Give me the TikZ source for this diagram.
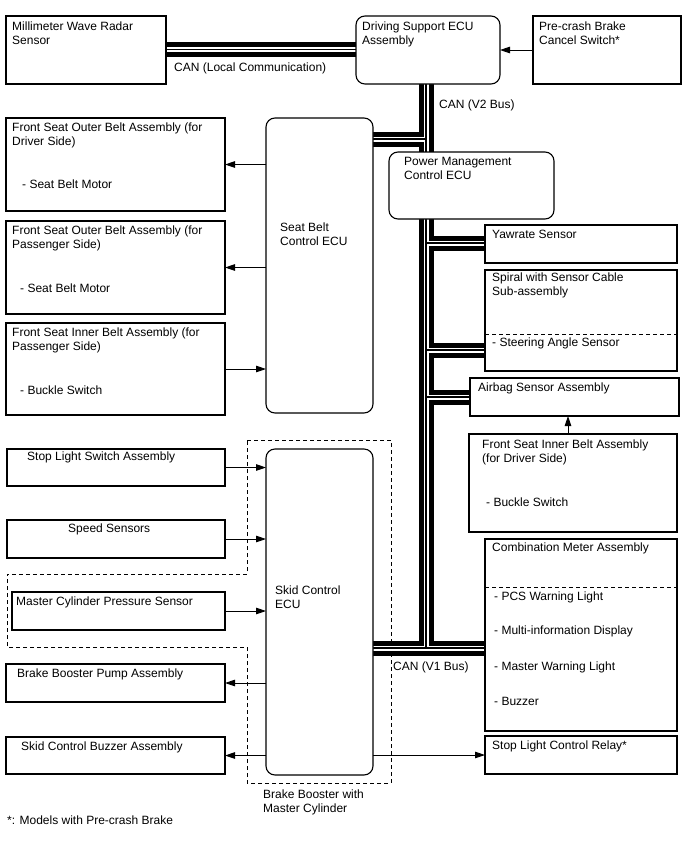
\documentclass[tikz,border=0pt]{standalone}
\usepackage{fontspec}
\setmainfont{Liberation Sans}
\usetikzlibrary{arrows.meta,backgrounds,calc}
\begin{document}
\begin{tikzpicture}[x=1pt,y=-1pt,
  box/.style={draw, line width=1.1pt, fill=white, inner sep=0pt, outer sep=0pt, anchor=north west},
  rbox/.style={box, rounded corners=9pt},
  txt/.style={anchor=north west, inner sep=0pt, align=left, font=\fontsize{12}{14}\selectfont},
  arr/.style={line width=0.9pt, -{Triangle[length=10pt,width=6.5pt]}},
  busA/.style={line width=15pt, black},
  busB/.style={line width=5pt, white},
  busC/.style={line width=1.4pt, black},
  bnd/.style={line width=1pt, dash pattern=on 4pt off 3pt},
  sep/.style={line width=0.9pt, dash pattern=on 4pt off 3pt}
]
\useasboundingbox (0,0) rectangle (688,852);

% boxes
\node[box, minimum width=160pt, minimum height=68pt] (radar) at (6,16) {};
\node[rbox, minimum width=144pt, minimum height=68pt] (dsecu) at (356,16) {};
\node[box, minimum width=148pt, minimum height=68pt] (pcs) at (533,16) {};
\node[rbox, minimum width=107pt, minimum height=295pt] (sbecu) at (266,118) {};
\node[box, minimum width=219pt, minimum height=93pt] (fsob1) at (6,118) {};
\node[box, minimum width=219pt, minimum height=93pt] (fsob2) at (6,221) {};
\node[box, minimum width=219pt, minimum height=92pt] (fsib2) at (6,323) {};
\node[rbox, minimum width=165pt, minimum height=67pt] (pm) at (389,152) {};
\node[box, minimum width=192pt, minimum height=38pt] (yaw) at (485,225) {};
\node[box, minimum width=192pt, minimum height=101pt] (spiral) at (485,270) {};
\node[box, minimum width=209pt, minimum height=38pt] (airbag) at (470,378) {};
\node[box, minimum width=208pt, minimum height=98pt] (fsib1) at (469,434) {};
\node[box, minimum width=192pt, minimum height=192pt] (comb) at (485,539) {};
\node[box, minimum width=192pt, minimum height=38pt] (relay) at (485,736) {};
\node[rbox, minimum width=107pt, minimum height=326pt] (skid) at (266,449) {};
\node[box, minimum width=218pt, minimum height=37pt] (sls) at (7,449) {};
\node[box, minimum width=218pt, minimum height=38pt] (speed) at (7,520) {};
\node[box, minimum width=213pt, minimum height=38pt] (mcps) at (12,592) {};
\node[box, minimum width=219pt, minimum height=38pt] (bbp) at (6,664) {};
\node[box, minimum width=219pt, minimum height=37pt] (scb) at (6,737) {};

% helper coordinates
\coordinate (busx) at (426,0);
\coordinate (yl) at (0,49.5);
\coordinate (ysb) at (0,139);
\coordinate (yyaw) at (0,243);
\coordinate (ysp) at (0,350);
\coordinate (yab) at (0,397);
\coordinate (yv1) at (0,648);
\coordinate (ax) at (568,0);
\coordinate (ysd) at (0,334);
\coordinate (ycd) at (0,587);

\begin{pgfonlayer}{background}
  \draw[bnd] (247,440) -- (391,440) -- (391,783) -- (247,783) -- (247,647) -- (7,647) -- (7,574) -- (247,574) -- cycle;
  \foreach \s in {busA,busB,busC} {
    \draw[\s] (radar.east |- yl) -- (dsecu.west |- yl);
    \draw[\s] (dsecu.south -| busx) -- (busx |- yv1);
    \draw[\s] (sbecu.east |- ysb) -- (busx |- ysb);
    \draw[\s] (busx |- yyaw) -- (yaw.west |- yyaw);
    \draw[\s] (busx |- ysp) -- (spiral.west |- ysp);
    \draw[\s] (busx |- yab) -- (airbag.west |- yab);
    \draw[\s] (skid.east |- yv1) -- (comb.west |- yv1);
  }
\end{pgfonlayer}

% internal separators
\draw[sep] (spiral.west |- ysd) -- (spiral.east |- ysd);
\draw[sep] (comb.west |- ycd) -- (comb.east |- ycd);

% arrows
\draw[arr] (pcs.west) -- (dsecu.east |- pcs.west);
\draw[arr] (sbecu.west |- fsob1.east) -- (fsob1.east);
\draw[arr] (sbecu.west |- fsob2.east) -- (fsob2.east);
\draw[arr] (fsib2.east) -- (sbecu.west |- fsib2.east);
\draw[arr] (sls.east) -- (skid.west |- sls.east);
\draw[arr] (speed.east) -- (skid.west |- speed.east);
\draw[arr] (mcps.east) -- (skid.west |- mcps.east);
\draw[arr] (skid.west |- bbp.east) -- (bbp.east);
\draw[arr] (skid.west |- scb.east) -- (scb.east);
\draw[arr] (skid.east |- relay.west) -- (relay.west);
\draw[arr] (fsib1.north -| ax) -- (airbag.south -| ax);

% texts
\node[txt] (t1) at (12,22) {Millimeter Wave Radar\\Sensor};
\node[txt] (t2) at (362,22) {Driving Support ECU\\Assembly};
\node[txt] (t3) at (539,22) {Pre-crash Brake\\Cancel Switch*};
\node[txt] (t4) at (174,63) {CAN (Local Communication)};
\node[txt] (t5) at (439,100) {CAN (V2 Bus)};
\node[txt] (t6) at (12,123) {Front Seat Outer Belt Assembly (for\\Driver Side)};
\node[txt] (t7) at (22,180) {- Seat Belt Motor};
\node[txt] (t8) at (12,226) {Front Seat Outer Belt Assembly (for\\Passenger Side)};
\node[txt] (t9) at (20,284) {- Seat Belt Motor};
\node[txt] (t10) at (12,328) {Front Seat Inner Belt Assembly (for\\Passenger Side)};
\node[txt] (t11) at (20,386) {- Buckle Switch};
\node[txt] (t12) at (280,223) {Seat Belt\\Control ECU};
\node[txt] (t13) at (404,157) {Power Management\\Control ECU};
\node[txt] (t14) at (492,230) {Yawrate Sensor};
\node[txt] (t15) at (492,273) {Spiral with Sensor Cable\\Sub-assembly};
\node[txt] (t16) at (492,338) {- Steering Angle Sensor};
\node[txt] (t17) at (478,383) {Airbag Sensor Assembly};
\node[txt] (t18) at (482,440) {Front Seat Inner Belt Assembly\\(for Driver Side)};
\node[txt] (t19) at (486,498) {- Buckle Switch};
\node[txt] (t20) at (492,543) {Combination Meter Assembly};
\node[txt] (t21) at (494,592) {- PCS Warning Light};
\node[txt] (t22) at (494,626) {- Multi-information Display};
\node[txt] (t23) at (494,662) {- Master Warning Light};
\node[txt] (t24) at (494,697) {- Buzzer};
\node[txt] (t25) at (492,741) {Stop Light Control Relay*};
\node[txt] (t26) at (393,662) {CAN (V1 Bus)};
\node[txt] (t27) at (27,452) {Stop Light Switch Assembly};
\node[txt] (t28) at (68,524) {Speed Sensors};
\node[txt] (t29) at (16,597) {Master Cylinder Pressure Sensor};
\node[txt] (t30) at (275,586) {Skid Control\\ECU};
\node[txt] (t31) at (17,669) {Brake Booster Pump Assembly};
\node[txt] (t32) at (21,742) {Skid Control Buzzer Assembly};
\node[txt] (t33) at (263,790) {Brake Booster with\\Master Cylinder};
\node[txt] (t34) at (7,816) {*: Models with Pre-crash Brake};
\end{tikzpicture}
\end{document}
